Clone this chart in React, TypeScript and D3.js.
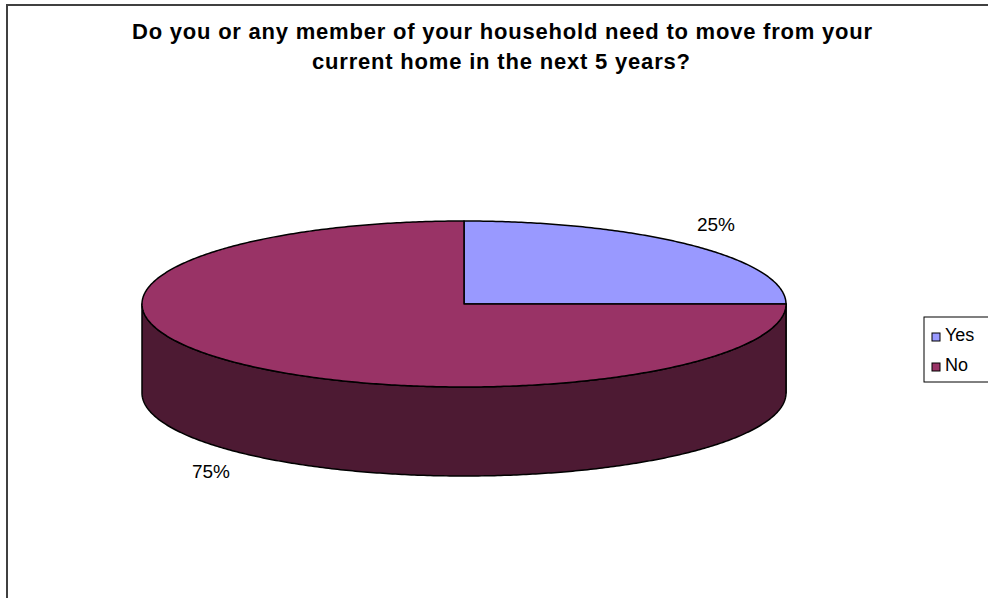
import React from "react";
import * as d3 from "d3";

const categories = ["Yes", "No"];
const values = [25, 75];
const labels = ["25%", "75%"];
const titleLines = [
  "Do you or any member of your household need to move from your",
  "current home in the next 5 years?",
];
const topColors = ["#9999FF", "#993366"];
const sideColors = ["#4D4D80", "#4D1A33"];

const W = 988;
const H = 598;
const cx = 464;
const cy = 304;
const rx = 322;
const ry = 83;
const depth = 89;

function pt(a: number, dy = 0): [number, number] {
  return [cx + rx * Math.sin(a), cy - ry * Math.cos(a) + dy];
}

function arcPts(a0: number, a1: number, dy = 0): [number, number][] {
  const n = Math.max(2, Math.ceil(Math.abs(a1 - a0) / 0.01));
  const out: [number, number][] = [];
  for (let i = 0; i <= n; i++) out.push(pt(a0 + ((a1 - a0) * i) / n, dy));
  return out;
}

export default function App() {
  const pie = d3.pie<number>().sort(null).startAngle(0).endAngle(2 * Math.PI);
  const arcs = pie(values);
  const line = d3.line();

  const sides: { d: string; color: string }[] = [];
  arcs.forEach((a, i) => {
    const s = Math.max(a.startAngle, Math.PI / 2);
    const e = Math.min(a.endAngle, (3 * Math.PI) / 2);
    if (e > s) {
      const top = arcPts(s, e);
      const bot = arcPts(e, s, depth);
      sides.push({ d: line([...top, ...bot])! + "Z", color: sideColors[i] });
    }
  });

  const tops = arcs.map((a, i) => ({
    d: line([[cx, cy], ...arcPts(a.startAngle, a.endAngle)])! + "Z",
    color: topColors[i],
  }));

  const labelPos = [
    { x: 716, y: 231 },
    { x: 211, y: 478 },
  ];

  return (
    <svg
      width={W}
      height={H}
      style={{ position: "absolute", left: 0, top: 0, background: "#fff" }}
      fontFamily="'Liberation Sans', Arial, sans-serif"
    >
      <rect x={7} y={5} width={1000} height={620} fill="#fff" stroke="#404040" strokeWidth={2} />
      <text textAnchor="middle" fontWeight="bold" fontSize={22} fill="#000">
        <tspan x={502} y={39} textLength={740} lengthAdjust="spacing">{titleLines[0]}</tspan>
        <tspan x={501} y={69} textLength={378} lengthAdjust="spacing">{titleLines[1]}</tspan>
      </text>
      {sides.map((s, i) => (
        <path key={"s" + i} d={s.d} fill={s.color} stroke="#000" strokeWidth={1.5} strokeLinejoin="round" />
      ))}
      {tops.map((t, i) => (
        <path key={"t" + i} d={t.d} fill={t.color} stroke="#000" strokeWidth={1.5} strokeLinejoin="round" />
      ))}
      {labels.map((l, i) => (
        <text key={"l" + i} x={labelPos[i].x} y={labelPos[i].y} textAnchor="middle" fontSize={19} fill="#000">
          {l}
        </text>
      ))}
      <rect x={924} y={317} width={80} height={65} fill="#fff" stroke="#000" strokeWidth={1} />
      {categories.map((c, i) => (
        <g key={c}>
          <rect x={932} y={333 + i * 30} width={8} height={8} fill={topColors[i]} stroke="#000" strokeWidth={1} />
          <text x={945} y={341 + i * 30} fontSize={18} fill="#000">
            {c}
          </text>
        </g>
      ))}
    </svg>
  );
}
